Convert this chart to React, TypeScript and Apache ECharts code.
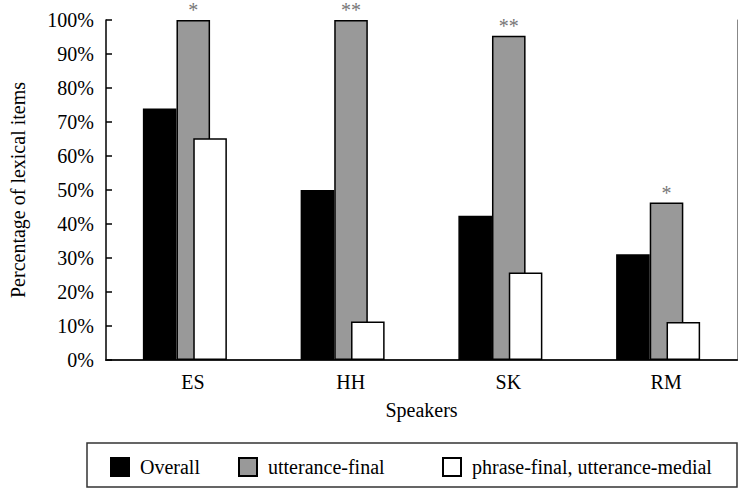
import React, { useEffect, useRef } from "react";
import * as echarts from "echarts";

const speakers = ["ES", "HH", "SK", "RM"];
const overall = [74, 50, 42.4, 31.1];
const utteranceFinal = [100, 100, 95.4, 46.3];
const phraseFinal = [65.2, 11.3, 25.7, 11.2];
const stars = ["*", "**", "**", "*"];
const yTicks = [0, 10, 20, 30, 40, 50, 60, 70, 80, 90, 100];
const seriesNames = ["Overall", "utterance-final", "phrase-final, utterance-medial"];

const FONT = "Liberation Serif";

export default function App() {
  const ref = useRef<HTMLDivElement>(null);
  useEffect(() => {
    if (!ref.current) return;
    const chart = echarts.init(ref.current, null, { renderer: "svg" });
    const border = { borderColor: "#000", borderWidth: 1.5 };
    const barW = 33.6;
    const legendCommon = {
      top: 457,
      padding: 0,
      itemWidth: 18,
      itemHeight: 18,
      icon: "rect",
      selectedMode: false,
      textStyle: { fontFamily: FONT, fontSize: 20, color: "#000", padding: [0, 0, 0, 6] },
    };
    chart.setOption({
      animation: false,
      backgroundColor: "#fff",
      textStyle: { fontFamily: FONT },
      grid: { left: 100, right: 2, top: 20, bottom: 128, containLabel: false },
      legend: [
        { ...legendCommon, left: 110, data: [seriesNames[0]] },
        { ...legendCommon, left: 238, data: [seriesNames[1]] },
        { ...legendCommon, left: 442, data: [seriesNames[2]] },
      ],
      graphic: [
        {
          type: "rect",
          shape: { x: 87, y: 443, width: 650, height: 44 },
          style: { fill: "none", stroke: "#333", lineWidth: 1.5 },
          z: -1,
        },
      ],
      xAxis: [
        {
          type: "category",
          data: speakers,
          position: "bottom",
          name: "Speakers",
          nameLocation: "middle",
          nameGap: 40,
          nameTextStyle: { fontFamily: FONT, fontSize: 20, color: "#000" },
          axisLine: { lineStyle: { color: "#000", width: 1.5 } },
          axisTick: { show: false },
          axisLabel: {
            fontFamily: FONT,
            fontSize: 20,
            color: "#000",
            margin: 12,
            padding: [0, 0, 0, 16],
          },
        },
        {
          type: "category",
          data: speakers,
          position: "top",
          axisLine: { lineStyle: { color: "#222", width: 2 } },
          axisTick: { show: false },
          axisLabel: { show: false },
        },
      ],
      yAxis: [
        {
          type: "value",
          min: 0,
          max: 100,
          interval: 10,
          name: "Percentage of lexical items",
          nameLocation: "middle",
          nameGap: 78,
          nameTextStyle: { fontFamily: FONT, fontSize: 20, color: "#000" },
          axisLine: { show: true, lineStyle: { color: "#000", width: 1.5 } },
          axisTick: { show: true, inside: true, length: 6, lineStyle: { color: "#000", width: 1.5 } },
          axisLabel: {
            fontFamily: FONT,
            fontSize: 20,
            color: "#000",
            margin: 12,
            formatter: (v: number) => (yTicks.includes(v) ? v + "%" : ""),
          },
          splitLine: { show: false },
        },
        {
          type: "value",
          min: 0,
          max: 100,
          interval: 10,
          position: "right",
          axisLine: { show: true, lineStyle: { color: "#888", width: 1 } },
          axisTick: { show: false },
          axisLabel: { show: false },
          splitLine: { show: false },
        },
      ],
      series: [
        {
          name: seriesNames[0],
          type: "bar",
          data: overall,
          barWidth: barW,
          barGap: "-50%",
          itemStyle: { color: "#000", ...border },
        },
        {
          name: "spacer",
          type: "bar",
          data: speakers.map(() => null),
          barWidth: barW,
          barGap: "-50%",
          itemStyle: { color: "transparent" },
        },
        {
          name: seriesNames[1],
          type: "bar",
          data: utteranceFinal,
          barWidth: barW,
          barGap: "-50%",
          itemStyle: { color: "#999999", ...border },
          label: {
            show: true,
            position: "top",
            distance: 0,
            fontFamily: FONT,
            fontSize: 20,
            color: "#777",
            formatter: (p: any) => stars[p.dataIndex],
          },
        },
        {
          name: seriesNames[2],
          type: "bar",
          data: phraseFinal,
          barWidth: barW,
          barGap: "-50%",
          itemStyle: { color: "#fff", ...border },
        },
      ],
    });
    return () => chart.dispose();
  }, []);
  return (
    <div
      ref={ref}
      style={{ position: "fixed", left: 0, top: 0, width: 739, height: 488, background: "#fff" }}
    />
  );
}
